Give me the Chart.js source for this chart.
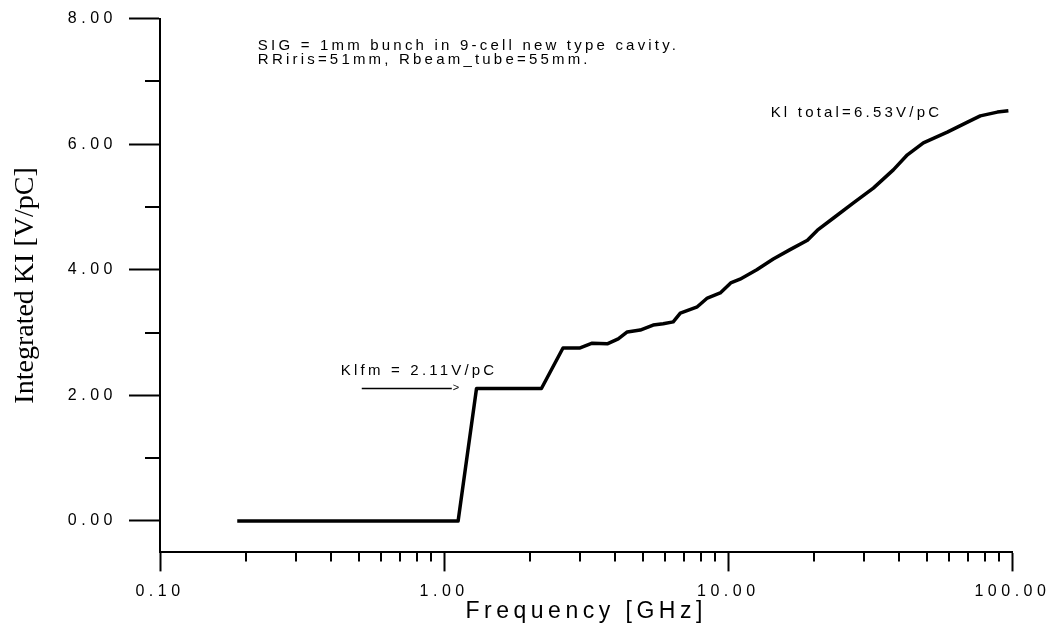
<!DOCTYPE html>
<html><head><meta charset="utf-8">
<script src="https://cdn.jsdelivr.net/npm/chart.js@4"></script>
<style>html,body{margin:0;padding:0;background:#fff}canvas{display:block}</style>
</head><body>
<canvas id="c" width="1052" height="627"></canvas>
<script>
// ---- data ----
const freqGHz = [0.187, 1.12, 1.30, 2.20, 2.62, 3.01, 3.32, 3.75, 4.10, 4.41, 4.90, 5.44, 5.90, 6.40, 6.78, 7.78, 8.44, 9.37, 10.2, 11.0, 12.6, 14.4, 16.5, 19.0, 20.6, 23.4, 27.5, 32.4, 38.1, 42.7, 48.6, 59.0, 69.5, 77.1, 88.5, 96.8];
const integratedKl = [0.00, 0.00, 2.11, 2.11, 2.755, 2.755, 2.83, 2.82, 2.90, 3.01, 3.04, 3.12, 3.14, 3.17, 3.31, 3.41, 3.55, 3.63, 3.79, 3.85, 4.00, 4.17, 4.32, 4.47, 4.63, 4.82, 5.06, 5.30, 5.59, 5.83, 6.02, 6.19, 6.35, 6.45, 6.51, 6.53];
const xTickValues = [0.1, 1, 10, 100];
const xMinorValues = [0.2,0.3,0.4,0.5,0.6,0.7,0.8,0.9,2,3,4,5,6,7,8,9,20,30,40,50,60,70,80,90];
const yTickValues = [0, 2, 4, 6, 8];
const yMinorValues = [1, 3, 5, 7];
const xTitle = 'Frequency [GHz]';
const yTitle = 'Integrated KI [V/pC]';
const noteTexts = ['SIG = 1mm bunch in 9-cell new type cavity.', 'RRiris=51mm, Rbeam_tube=55mm.', 'Kl total=6.53V/pC', 'Klfm = 2.11V/pC'];
const noteFreq = [0.221, 0.221, 14.1, 0.433];
const noteValue = [7.56, 7.34, 6.50, 2.39];
const arrowFreq = [0.513, 1.064];
const arrowValue = 2.11;

const TICK_LS = '4.5px';

const extras = {
  id: 'extras',
  beforeLayout(chart) { chart.ctx.letterSpacing = TICK_LS; },
  beforeDraw(chart) { chart.ctx.letterSpacing = TICK_LS; },
  afterDraw(chart) {
    const ctx = chart.ctx, xs = chart.scales.x, ys = chart.scales.y;
    ctx.save();
    ctx.strokeStyle = '#000'; ctx.lineWidth = 2;
    const xAxisY = ys.getPixelForValue(ys.min);
    xMinorValues.forEach(v => {
      const px = Math.round(xs.getPixelForValue(v));
      ctx.beginPath(); ctx.moveTo(px, xAxisY); ctx.lineTo(px, xAxisY + 9); ctx.stroke();
    });
    const yAxisX = xs.getPixelForValue(xs.min);
    yMinorValues.forEach(v => {
      const py = Math.round(ys.getPixelForValue(v));
      ctx.beginPath(); ctx.moveTo(yAxisX - 15, py); ctx.lineTo(yAxisX, py); ctx.stroke();
    });
    const ay = ys.getPixelForValue(arrowValue);
    ctx.lineWidth = 1.5;
    ctx.beginPath(); ctx.moveTo(xs.getPixelForValue(arrowFreq[0]), ay); ctx.lineTo(xs.getPixelForValue(arrowFreq[1]), ay); ctx.stroke();
    ctx.fillStyle = '#000';
    ctx.font = '11px "Liberation Sans", Arial, sans-serif';
    ctx.letterSpacing = '0px';
    ctx.textAlign = 'left'; ctx.textBaseline = 'middle';
    ctx.fillText('>', xs.getPixelForValue(arrowFreq[1]) + 1, ay);
    ctx.font = '15px "Liberation Sans", Arial, sans-serif';
    noteTexts.forEach((t, i) => {
      ctx.letterSpacing = '3.2px';
      ctx.fillText(t, xs.getPixelForValue(noteFreq[i]), ys.getPixelForValue(noteValue[i]));
    });
    ctx.letterSpacing = '0px';
    ctx.font = '28px "Liberation Serif", "Times New Roman", serif';
    ctx.textAlign = 'center'; ctx.textBaseline = 'middle';
    ctx.translate(26, (ys.top + ys.bottom) / 2);
    ctx.rotate(-Math.PI / 2);
    ctx.fillText(yTitle, 0, 0);
    ctx.restore();
    ctx.letterSpacing = TICK_LS;
  }
};

const tickFont = { family: '"Liberation Sans", Arial, sans-serif', size: 16 };

new Chart(document.getElementById('c'), {
  type: 'line',
  data: {
    datasets: [{
      data: freqGHz.map((f, i) => ({ x: f, y: integratedKl[i] })),
      borderColor: '#000', borderWidth: 3.5, pointRadius: 0, tension: 0, fill: false,
      borderJoinStyle: 'round', borderCapStyle: 'butt'
    }]
  },
  options: {
    responsive: false, animation: false, devicePixelRatio: 1,
    layout: { padding: { left: 0, top: 18.5, right: 39.6, bottom: 0 } },
    plugins: { legend: { display: false }, tooltip: { enabled: false } },
    scales: {
      x: {
        type: 'logarithmic', min: 0.1, max: 100,
        afterBuildTicks: s => { s.ticks = xTickValues.map(v => ({ value: v })); },
        afterFit: s => { s.height = 627 - 552.4; s.paddingLeft = 0; s.paddingRight = 0; },
        ticks: { color: '#000', font: tickFont, padding: 11, maxRotation: 0, autoSkip: false,
          callback: v => Number(v).toFixed(2) },
        grid: { drawOnChartArea: false, drawTicks: true, tickLength: 19, tickWidth: 2, tickColor: '#000' },
        border: { display: true, color: '#000', width: 2 },
        title: { display: true, text: xTitle, color: '#000', padding: { top: 2, bottom: 2 },
          font: { family: '"Liberation Sans", Arial, sans-serif', size: 23 } }
      },
      y: {
        type: 'linear', min: -0.5, max: 8,
        afterBuildTicks: s => { s.ticks = yTickValues.map(v => ({ value: v })); },
        afterFit: s => { s.width = 160; s.paddingTop = 0; s.paddingBottom = 0; },
        ticks: { color: '#000', font: tickFont, padding: 12, autoSkip: false,
          callback: v => Number(v).toFixed(2) },
        grid: { drawOnChartArea: false, drawTicks: true, tickLength: 31, tickWidth: 2, tickColor: '#000' },
        border: { display: true, color: '#000', width: 2 },
        title: { display: false }
      }
    }
  },
  plugins: [extras]
});
</script>
</body></html>
